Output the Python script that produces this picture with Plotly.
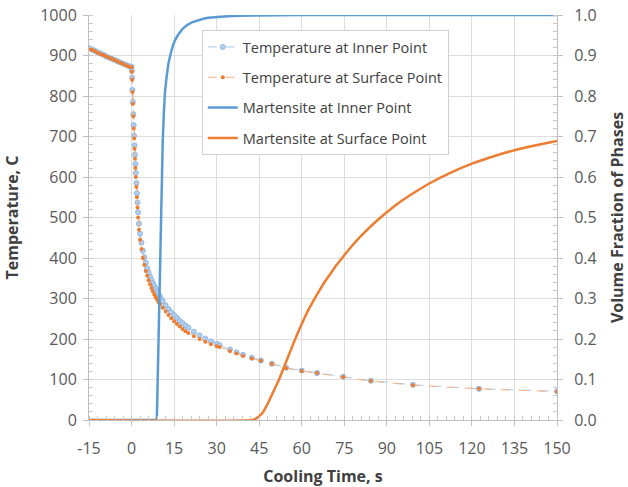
import plotly.graph_objects as go

# Temperature history at the surface point (time in s, temperature in C)
t_surf = [-15, -14, -13, -12, -11, -10, -9, -8, -7, -6, -5, -4, -3, -2, -1, 0,
          0.1, 0.2, 0.3, 0.45, 0.6, 0.75, 0.9, 1.05, 1.2, 1.35, 1.5, 1.7, 1.9, 2.1, 2.3,
          2.6, 3.0, 3.5, 4.0, 4.5, 5.0, 5.5, 6.0, 6.5, 7.0, 7.5, 8.0, 8.5, 9.0, 9.5, 10,
          11, 12, 13, 14, 15, 16, 17, 18, 19, 20, 22, 24, 26, 28, 30, 31, 34.7, 37,
          39.3, 42.4, 45.6, 49.5, 54.5, 60, 65.4, 74.6, 84.4, 99.2, 122.5, 150]
T_surf = [917, 914, 911, 907, 904, 901, 898, 895, 892, 889, 886, 882, 879, 876, 873, 871,
          860, 840, 810, 780, 750, 720, 695, 670, 645, 622, 600, 575, 550, 525, 500,
          470, 445, 422, 400, 383, 368, 356, 345, 335, 326, 318, 310, 303, 297, 291, 286,
          277, 268, 259, 251, 244, 237, 231, 225, 219, 215, 207, 200, 193, 187, 182, 180, 170, 164,
          158, 152, 146, 138, 128, 121, 116, 106, 96, 86, 77, 70]

# Temperature history at the inner point
t_inner = [-15, -14, -13, -12, -11, -10, -9, -8, -7, -6, -5, -4, -3, -2, -1, 0,
           0.1, 0.2, 0.3, 0.45, 0.6, 0.75, 0.9, 1.05, 1.2, 1.35, 1.5, 1.7, 1.9, 2.1, 2.3,
           2.6, 3.0, 3.5, 4.0, 4.5, 5.0, 5.5, 6.0, 6.5, 7.0, 7.5, 8.0, 8.5, 9.0, 9.5, 10,
           10.5, 11, 12, 13, 14, 15, 16, 17, 18, 19, 20, 22, 24, 26, 28, 30, 31, 34.7, 37,
           39.3, 42.4, 45.6, 49.5, 54.5, 60, 65.4, 74.6, 84.4, 99.2, 122.5, 150]
T_inner = [918, 915, 912, 908, 905, 902, 898, 895, 892, 889, 886, 883, 880, 877, 874, 872,
           862, 845, 815, 785, 755, 728, 702, 678, 655, 632, 610, 585, 560, 537, 513,
           485, 460, 438, 418, 402, 388, 375, 364, 354, 346, 338, 331, 324, 317, 311, 305,
           298, 293, 283, 274, 266, 259, 252, 245, 239, 233, 228, 218, 209, 201, 194, 188, 185, 174, 167,
           161, 154, 147, 139, 129, 122, 116, 107, 97, 87, 77, 71]

# Martensite volume fraction at the inner point
t_mart_inner = [-15, 8.9, 9.1, 9.3, 9.5, 9.7, 9.9, 10.1, 10.3, 10.5, 10.7, 11.0, 11.4,
                11.8, 12.4, 13.0, 13.8, 14.6, 15.5, 16.5, 18, 19.6, 21.3, 23, 25, 27,
                30, 34, 38, 44, 50, 60, 70, 150]
f_mart_inner = [0, 0, 0.06, 0.13, 0.2, 0.27, 0.34, 0.42, 0.49, 0.56, 0.62, 0.69, 0.76,
                0.81, 0.85, 0.88, 0.905, 0.925, 0.94, 0.952, 0.966, 0.975, 0.982, 0.986,
                0.99, 0.993, 0.995, 0.997, 0.998, 0.999, 0.9995, 1.0, 1.0, 1.0]

# Martensite volume fraction at the surface point
t_mart_surf = [-15, 42.5, 44, 46, 48, 50, 52, 54, 56, 58, 60, 62, 64, 66, 68, 70, 72, 75,
               78, 81, 84, 87, 90, 95, 100, 105, 112, 120, 128, 136, 143, 150]
f_mart_surf = [0, 0, 0.004, 0.016, 0.04, 0.07, 0.10, 0.135, 0.17, 0.205, 0.237, 0.267,
               0.293, 0.317, 0.34, 0.36, 0.38, 0.407, 0.432, 0.455, 0.476, 0.495, 0.513,
               0.54, 0.563, 0.584, 0.609, 0.633, 0.652, 0.668, 0.679, 0.689]

x_ticks = [-15, 0, 15, 30, 45, 60, 75, 90, 105, 120, 135, 150]

BLUE = "#5b9bd5"
ORANGE = "#ed7d31"
FONT = "Open Sans"
TITLE_FONT = dict(family=FONT, size=16, color="#404040")

fig = go.Figure()

fig.add_trace(go.Scatter(
    x=t_inner, y=T_inner, name="Temperature at Inner Point", mode="lines+markers",
    line=dict(color="#a9c8ea", width=1, dash="dash"),
    marker=dict(symbol="circle", size=5, color="#b4d0ee", line=dict(color="#8db6e3", width=1)),
    legendgroup="a"))

fig.add_trace(go.Scatter(
    x=t_surf, y=T_surf, name="Temperature at Surface Point", mode="lines+markers",
    line=dict(color="#f4b183", width=1, dash="dash"),
    marker=dict(symbol="circle", size=4, color=ORANGE),
    legendgroup="b"))

fig.add_trace(go.Scatter(
    x=t_mart_inner, y=f_mart_inner, name="Martensite at Inner Point", mode="lines",
    line=dict(color=BLUE, width=2.5), yaxis="y2", legendgroup="c"))

fig.add_trace(go.Scatter(
    x=t_mart_surf, y=f_mart_surf, name="Martensite at Surface Point", mode="lines",
    line=dict(color=ORANGE, width=2.5, shape="spline", smoothing=0.5), yaxis="y2", legendgroup="d"))

axis_common = dict(
    showline=True, linecolor="#bfbfbf", linewidth=1,
    ticks="outside", ticklen=5, tickcolor="#bfbfbf",
    tickfont=dict(family=FONT, size=16, color="#595959"),
    zeroline=False, automargin=False,
)

fig.update_layout(
    width=628, height=487,
    margin=dict(l=89, r=71, t=15, b=67),
    paper_bgcolor="white", plot_bgcolor="white",
    font=dict(family=FONT, color="#404040"),
    showlegend=True,
    legend=dict(
        x=0.241, y=0.963, xanchor="left", yanchor="top",
        bgcolor="white", bordercolor="#d0d0d0", borderwidth=1,
        font=dict(family=FONT, size=14.5, color="#404040"),
        traceorder="grouped", tracegroupgap=8.5,
    ),
    xaxis=dict(
        range=[-15, 150], tickvals=x_ticks, ticktext=[str(v) for v in x_ticks],
        showgrid=True, gridcolor="#dedede", gridwidth=1,
        ticklabelstandoff=9,
        minor=dict(dtick=3, tick0=0, ticks="inside", ticklen=4, tickcolor="#c8c8c8", showgrid=False),
        title=dict(text="<b>Cooling Time, s</b>", font=TITLE_FONT, standoff=14),
        **axis_common,
    ),
    yaxis=dict(
        range=[0, 1000], dtick=100, tick0=0,
        showgrid=True, gridcolor="#dedede", gridwidth=1,
        ticklabelstandoff=3,
        minor=dict(dtick=20, ticks="inside", ticklen=4, tickcolor="#c8c8c8", showgrid=False),
        title=dict(text="<b>Temperature, C</b>", font=TITLE_FONT, standoff=17),
        **axis_common,
    ),
    yaxis2=dict(
        range=[0, 1], dtick=0.1, tick0=0, tickformat=".1f",
        overlaying="y", side="right", showgrid=False,
        ticklabelstandoff=8,
        minor=dict(dtick=0.02, ticks="inside", ticklen=4, tickcolor="#c8c8c8", showgrid=False),
        title=dict(text="<b>Volume Fraction of Phases</b>", font=TITLE_FONT, standoff=16),
        **axis_common,
    ),
)

fig.write_html("out.html")
